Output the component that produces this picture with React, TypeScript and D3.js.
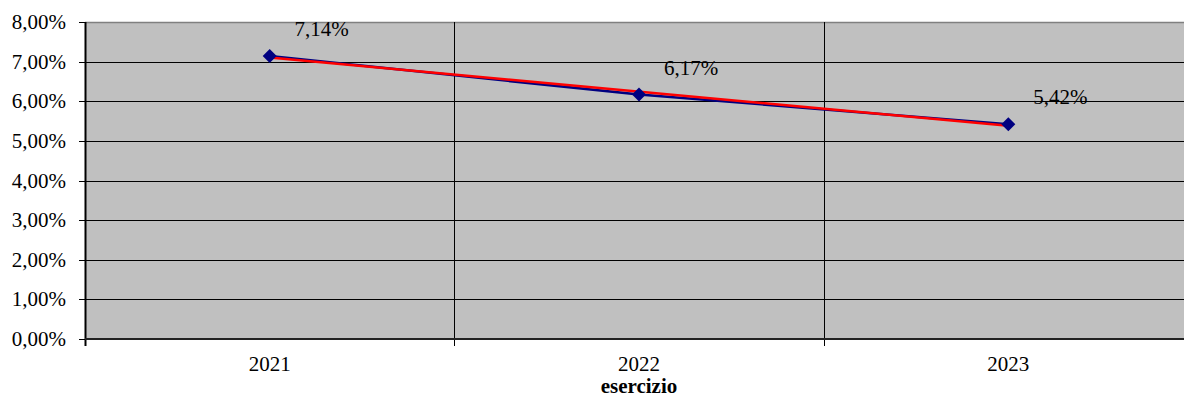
import { useEffect, useRef } from "react";
import * as d3 from "d3";

const years = ["2021", "2022", "2023"];
const values = [7.14, 6.17, 5.42];
const yTicks = [0, 1, 2, 3, 4, 5, 6, 7, 8];
const axisTitle = "esercizio";

const fmt = (v: number) => v.toFixed(2).replace(".", ",") + "%";

const App = () => {
  const gRef = useRef<SVGGElement>(null);

  useEffect(() => {
    document.body.style.margin = "0";
    const svg = d3.select(gRef.current);
    const width = 1184;
    const left = 85;
    const right = 1193;
    const top = 22;
    const bottom = 339;

    svg.selectAll("*").remove();

    const x = d3.scaleBand().domain(years).range([left, right]);
    const y = d3.scaleLinear().domain([0, 8]).range([bottom, top]);
    const cx = (d: string) => (x(d) ?? 0) + x.bandwidth() / 2;

    // fondo area grafico
    svg
      .append("rect")
      .attr("x", left)
      .attr("y", top)
      .attr("width", right - left)
      .attr("height", bottom - top)
      .attr("fill", "#c0c0c0");

    // griglia orizzontale
    svg
      .append("g")
      .selectAll("line")
      .data(yTicks.filter((t) => t > 0 && t < 8))
      .enter()
      .append("line")
      .attr("x1", left)
      .attr("x2", width)
      .attr("y1", (d) => Math.round(y(d)) + 0.5)
      .attr("y2", (d) => Math.round(y(d)) + 0.5)
      .attr("stroke", "#000")
      .attr("stroke-width", 1);

    // bordo superiore
    svg
      .append("line")
      .attr("x1", left)
      .attr("x2", width)
      .attr("y1", top + 0.5)
      .attr("y2", top + 0.5)
      .attr("stroke", "#808080")
      .attr("stroke-width", 1.5);

    // griglia verticale tra le categorie
    svg
      .append("g")
      .selectAll("line")
      .data(years.slice(1))
      .enter()
      .append("line")
      .attr("x1", (d) => Math.round(x(d) ?? 0) + 0.5)
      .attr("x2", (d) => Math.round(x(d) ?? 0) + 0.5)
      .attr("y1", top)
      .attr("y2", bottom + 7)
      .attr("stroke", "#000")
      .attr("stroke-width", 1);

    // asse y
    svg
      .append("line")
      .attr("x1", left + 0.5)
      .attr("x2", left + 0.5)
      .attr("y1", top)
      .attr("y2", bottom + 7)
      .attr("stroke", "#000")
      .attr("stroke-width", 2);

    svg
      .append("g")
      .selectAll("line")
      .data(yTicks)
      .enter()
      .append("line")
      .attr("x1", left - 6)
      .attr("x2", left)
      .attr("y1", (d) => Math.round(y(d)) + 0.5)
      .attr("y2", (d) => Math.round(y(d)) + 0.5)
      .attr("stroke", "#000");

    svg
      .append("g")
      .selectAll("text")
      .data(yTicks)
      .enter()
      .append("text")
      .attr("x", 66)
      .attr("y", (d) => y(d) + 7)
      .attr("text-anchor", "end")
      .text((d) => fmt(d));

    // asse x
    svg
      .append("line")
      .attr("x1", left)
      .attr("x2", width)
      .attr("y1", bottom)
      .attr("y2", bottom)
      .attr("stroke", "#222")
      .attr("stroke-width", 2);

    svg
      .append("g")
      .selectAll("text")
      .data(years)
      .enter()
      .append("text")
      .attr("x", (d) => cx(d))
      .attr("y", 371)
      .attr("text-anchor", "middle")
      .text((d) => d);

    svg
      .append("text")
      .attr("x", (left + right) / 2)
      .attr("y", 393)
      .attr("text-anchor", "middle")
      .attr("font-weight", "bold")
      .text(axisTitle);

    // serie
    const pts = years.map((d, i) => [cx(d), y(values[i])] as [number, number]);
    svg
      .append("path")
      .datum(pts)
      .attr("fill", "none")
      .attr("stroke", "#000080")
      .attr("stroke-width", 2.5)
      .attr("d", d3.line());

    // linea di tendenza (regressione lineare)
    const n = values.length;
    const mx = d3.mean(values.map((_, i) => i)) ?? 0;
    const my = d3.mean(values) ?? 0;
    const slope =
      d3.sum(values, (v, i) => (i - mx) * (v - my)) /
      d3.sum(values, (_, i) => (i - mx) * (i - mx));
    const trend = [0, n - 1].map(
      (i) => [cx(years[i]), y(my + slope * (i - mx))] as [number, number]
    );
    svg
      .append("path")
      .datum(trend)
      .attr("fill", "none")
      .attr("stroke", "#ff0000")
      .attr("stroke-width", 2.5)
      .attr("d", d3.line());

    // marcatori a rombo
    svg
      .append("g")
      .selectAll("path")
      .data(pts)
      .enter()
      .append("path")
      .attr("transform", (d) => `translate(${d[0]},${d[1]})`)
      .attr("d", "M0,-7L7,0L0,7L-7,0Z")
      .attr("fill", "#000080");

    // etichette dati
    svg
      .append("g")
      .selectAll("text")
      .data(values)
      .enter()
      .append("text")
      .attr("x", (d, i) => cx(years[i]) + 52)
      .attr("y", (d) => y(d) - 20)
      .attr("text-anchor", "middle")
      .text((d) => fmt(d));
  }, []);

  // font di default della pagina (serif), solo la dimensione
  return (
    <svg width={1184} height={397} style={{ display: "block", fontSize: 21 }}>
      <g ref={gRef}></g>
    </svg>
  );
};

export default App;
